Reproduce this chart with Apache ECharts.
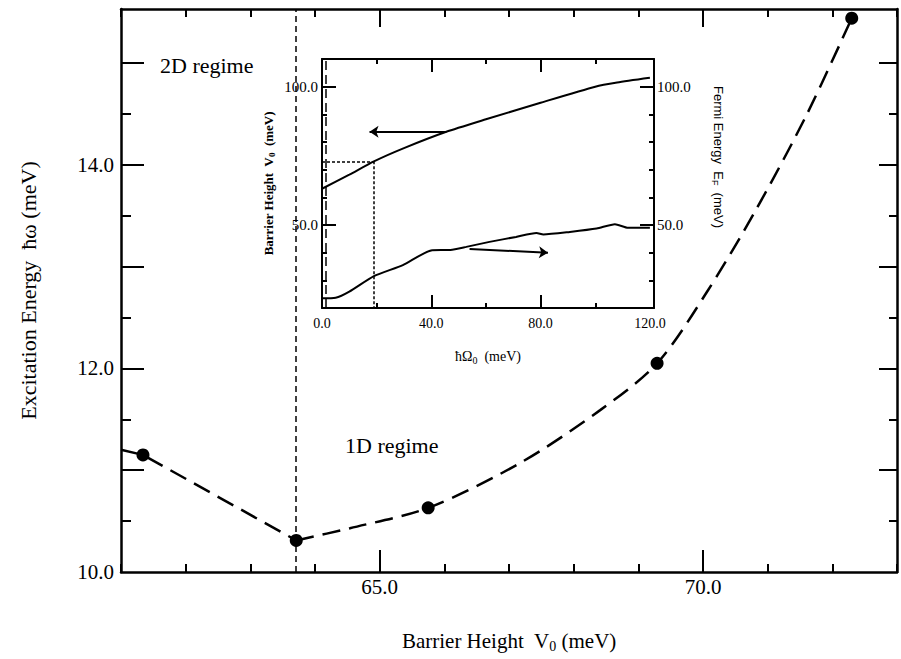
<!DOCTYPE html>
<html>
<head>
<meta charset="utf-8">
<script src="https://cdn.jsdelivr.net/npm/echarts@6.0.0/dist/echarts.min.js"></script>
<style>
  html, body { margin: 0; padding: 0; background: #fff; }
  #chart { width: 901px; height: 659px; }
</style>
</head>
<body>
<div id="chart"></div>
<script>
// main plot: excitation energy vs barrier height
// dashed guide, 2D side (straight) and 1D side (curved)
const leftV0  = [61.0, 61.34, 63.71];
const leftE   = [11.20, 11.15, 10.31];
const rightV0 = [63.71, 64.54, 65.75, 67.17, 68.41, 69.29, 70.06, 70.83, 71.61, 72.30];
const rightE  = [10.31, 10.43, 10.63, 11.07, 11.59, 12.05, 12.75, 13.57, 14.50, 15.44];
const pointV0 = [61.34, 63.71, 65.75, 69.29, 72.30];
const pointE  = [11.15, 10.31, 10.63, 12.05, 15.44];
const crossoverV0 = 63.71; // 2D / 1D boundary
const mainXMajor = [65, 70];
const mainXLabels = [65, 70];
const mainYMajor = [11, 12, 13, 14, 15];
const mainYMinor = [10.5, 11.5, 12.5, 13.5, 14.5];
const mainYLabels = [10, 12, 14];

// inset: V0 and E_F vs hbar*Omega0
const omegaBarrier = [0, 10, 19, 30, 45.5, 60, 80, 100, 108, 120];
const barrierV0    = [63.1, 68.2, 73.0, 77.8, 83.7, 88.2, 94.2, 100.0, 101.5, 103.2];
const omegaFermi   = [0, 5, 10, 19, 29.6, 40.3, 47, 52.8, 61.3, 71, 78.5, 81, 90.7, 100.5, 107.2, 112, 120];
const fermiE       = [23.5, 23.7, 25.9, 31.5, 35.5, 40.9, 41.0, 42.1, 43.9, 45.7, 47.1, 46.6, 47.5, 48.7, 50.3, 49.0, 49.0];
const insetXLabels = [0, 40, 80, 120];
const insetXMajor = [40, 80];
const insetXMinor = [20, 60, 100];
const insetYLabels = [50, 100];
const insetYMinor = [30, 40, 60, 70, 80, 90];
// guide lines in the inset
const guideOmega = 19, guideV0 = 73;
const leftArrow  = [[45.5, 83.7], [17.4, 83.7]];
const rightArrow = [[54, 41.3], [82.7, 40.0]];
const markerOmega = 1.2;

const serif = '"Liberation Serif", "DejaVu Serif", serif';
const sans = '"Liberation Sans", "DejaVu Sans", sans-serif';

// one value axis; line / tick / label may be off
function axis(gridIndex, position, min, max, interval, line, tick, label) {
  return {
    type: 'value', gridIndex: gridIndex, position: position,
    min: min, max: max, interval: interval,
    axisLine: line ? {show: true, onZero: false, lineStyle: {color: '#000', width: line}} : {show: false, onZero: false},
    axisTick: tick ? Object.assign({show: true, inside: true, lineStyle: {color: '#000', width: 2}}, tick) : {show: false},
    axisLabel: label ? Object.assign({show: true, color: '#000', fontFamily: serif}, label) : {show: false},
    splitLine: {show: false}
  };
}

function pick(list, digits) {
  return function (v) {
    return list.indexOf(Math.round(v * 100) / 100) >= 0 ? v.toFixed(digits) : '';
  };
}

function zip(xs, ys) {
  return xs.map((x, i) => [x, ys[i]]);
}

const xMin = 61, xMax = 73, yMin = 10, yMax = 15.53;
const ixMin = 0, ixMax = 121.5, iyMin = 20, iyMax = 110;

const xAxes = [
  axis(0, 'bottom', xMin, xMax, 1, 2.5, {length: 8}, {fontSize: 21, margin: 4, formatter: pick(mainXLabels, 1)}),
  axis(0, 'bottom', xMin, xMax, 1, 0, {length: 22, customValues: mainXMajor}, null),
  axis(0, 'top', xMin, xMax, 1, 2.5, {length: 8}, null),
  axis(0, 'top', xMin, xMax, 1, 0, {length: 18, customValues: mainXMajor}, null),
  axis(1, 'bottom', ixMin, ixMax, 40, 2, {length: 13, customValues: insetXMajor}, {fontSize: 14, margin: 8, formatter: pick(insetXLabels, 1)}),
  axis(1, 'bottom', ixMin, ixMax, 40, 0, {length: 5, customValues: insetXMinor}, null),
  axis(1, 'top', ixMin, ixMax, 40, 2, {length: 13, customValues: insetXMajor}, null),
  axis(1, 'top', ixMin, ixMax, 40, 0, {length: 5, customValues: insetXMinor}, null)
];
const yAxes = [
  axis(0, 'left', yMin, yMax, 1, 2.5, {length: 23, customValues: mainYMajor}, {fontSize: 21, margin: 7, formatter: pick(mainYLabels, 1)}),
  axis(0, 'left', yMin, yMax, 1, 0, {length: 10, customValues: mainYMinor}, null),
  axis(0, 'right', yMin, yMax, 1, 2.5, {length: 18, customValues: mainYMajor}, null),
  axis(0, 'right', yMin, yMax, 1, 0, {length: 8, customValues: mainYMinor}, null),
  axis(1, 'left', iyMin, iyMax, 10, 2, {length: 14, customValues: insetYLabels}, {fontSize: 15, margin: 4, formatter: pick(insetYLabels, 1)}),
  axis(1, 'left', iyMin, iyMax, 10, 0, {length: 5, customValues: insetYMinor}, null),
  axis(1, 'right', iyMin, iyMax, 10, 2, {length: 14, customValues: insetYLabels}, {fontSize: 15, margin: 3, formatter: pick(insetYLabels, 1)}),
  axis(1, 'right', iyMin, iyMax, 10, 0, {length: 5, customValues: insetYMinor}, null)
];

// axis titles
const subRich = {
  n: {fontSize: 21, fontFamily: serif, color: '#000', lineHeight: 24},
  s: {fontSize: 14, fontFamily: serif, color: '#000', verticalAlign: 'bottom'}
};
yAxes[0].name = 'Excitation Energy  \u0127\u03c9 (meV)';
yAxes[0].nameLocation = 'middle';
yAxes[0].nameGap = 82;
yAxes[0].nameTextStyle = {fontSize: 22, fontFamily: serif, color: '#000'};
xAxes[0].name = '{n|Barrier Height  V}{s|0}{n| (meV)}';
xAxes[0].nameLocation = 'middle';
xAxes[0].nameGap = 57;
xAxes[0].nameTextStyle = {rich: subRich};

yAxes[4].name = '{n|Barrier Height  V}{s|0}{n|  (meV)}';
yAxes[4].nameLocation = 'middle';
yAxes[4].nameGap = 46;
yAxes[4].nameTextStyle = {rich: {
  n: {fontSize: 13, fontFamily: serif, fontWeight: 'bold', color: '#000', lineHeight: 16},
  s: {fontSize: 9, fontFamily: serif, fontWeight: 'bold', color: '#000', verticalAlign: 'bottom'}
}};
xAxes[4].name = '{n|\u0127\u03a9}{s|0}{n|  (meV)}';
xAxes[4].nameLocation = 'middle';
xAxes[4].nameGap = 40;
xAxes[4].nameTextStyle = {rich: {
  n: {fontSize: 14, fontFamily: serif, color: '#000', lineHeight: 17},
  s: {fontSize: 10, fontFamily: serif, color: '#000', verticalAlign: 'bottom'}
}};

const chart = echarts.init(document.getElementById('chart'), null, {renderer: 'svg'});

const dashStyle = {color: '#000', width: 2.5, type: [18, 9]};

const option = {
  backgroundColor: '#fff',
  animation: false,
  grid: [
    {left: 121, right: 4, top: 9, bottom: 87, containLabel: false, outerBoundsMode: 'none'},
    {left: 322, right: 247, top: 59, bottom: 351, containLabel: false, outerBoundsMode: 'none'}
  ],
  xAxis: xAxes,
  yAxis: yAxes,
  graphic: [
    {type: 'text', left: 160, top: 54, style: {text: '2D regime', font: '22px ' + serif, fill: '#000'}},
    {type: 'text', left: 345, top: 434, style: {text: '1D regime', font: '22px ' + serif, fill: '#000'}},
    {
      type: 'text', x: 718, y: 157, rotation: -Math.PI / 2,
      style: {
        text: '{n|Fermi Energy  E}{s|F}{n|  (meV)}',
        align: 'center', verticalAlign: 'middle',
        rich: {
          n: {fontSize: 13, fontFamily: sans, fill: '#000', lineHeight: 16},
          s: {fontSize: 9, fontFamily: sans, fill: '#000', verticalAlign: 'bottom'}
        }
      }
    }
  ],
  series: [
    {
      type: 'line', xAxisIndex: 0, yAxisIndex: 0,
      data: zip(leftV0, leftE),
      symbol: 'none', smooth: false,
      lineStyle: dashStyle,
      markLine: {
        silent: true, symbol: ['none', 'none'], label: {show: false},
        lineStyle: {color: '#000', width: 1.5, type: [6, 4]},
        data: [{xAxis: crossoverV0}]
      },
      z: 3
    },
    {
      type: 'line', xAxisIndex: 0, yAxisIndex: 0,
      data: zip(rightV0, rightE),
      symbol: 'none', smooth: 0.3,
      lineStyle: dashStyle,
      z: 3
    },
    {
      type: 'scatter', xAxisIndex: 0, yAxisIndex: 0,
      data: zip(pointV0, pointE),
      symbol: 'circle', symbolSize: 13,
      itemStyle: {color: '#000', opacity: 1},
      z: 5
    },
    {
      // inset: barrier height (left scale)
      type: 'line', xAxisIndex: 4, yAxisIndex: 4,
      data: zip(omegaBarrier, barrierV0),
      symbol: 'none', smooth: 0.2,
      lineStyle: {color: '#000', width: 2},
      markLine: {
        silent: true, symbol: ['none', 'none'], label: {show: false},
        lineStyle: {color: '#000', width: 1.5, type: [3, 2]},
        data: [
          [{coord: [0, guideV0]}, {coord: [guideOmega, guideV0]}],
          [{coord: [guideOmega, guideV0]}, {coord: [guideOmega, iyMin]}],
          [{coord: [markerOmega, iyMin], lineStyle: {type: [9, 5], width: 1.5}},
           {coord: [markerOmega, iyMax]}],
          [{coord: leftArrow[0], symbol: 'none', lineStyle: {type: 'solid', width: 2}},
           {coord: leftArrow[1], symbol: 'arrow', symbolSize: 9}]
        ]
      }
    },
    {
      // inset: Fermi energy (right scale)
      type: 'line', xAxisIndex: 4, yAxisIndex: 6,
      data: zip(omegaFermi, fermiE),
      symbol: 'none', smooth: 0.2,
      lineStyle: {color: '#000', width: 2},
      markLine: {
        silent: true, symbol: ['none', 'arrow'], symbolSize: 9, label: {show: false},
        lineStyle: {color: '#000', width: 2, type: 'solid'},
        data: [[{coord: rightArrow[0]}, {coord: rightArrow[1]}]]
      }
    }
  ]
};

chart.setOption(option);
</script>
</body>
</html>
